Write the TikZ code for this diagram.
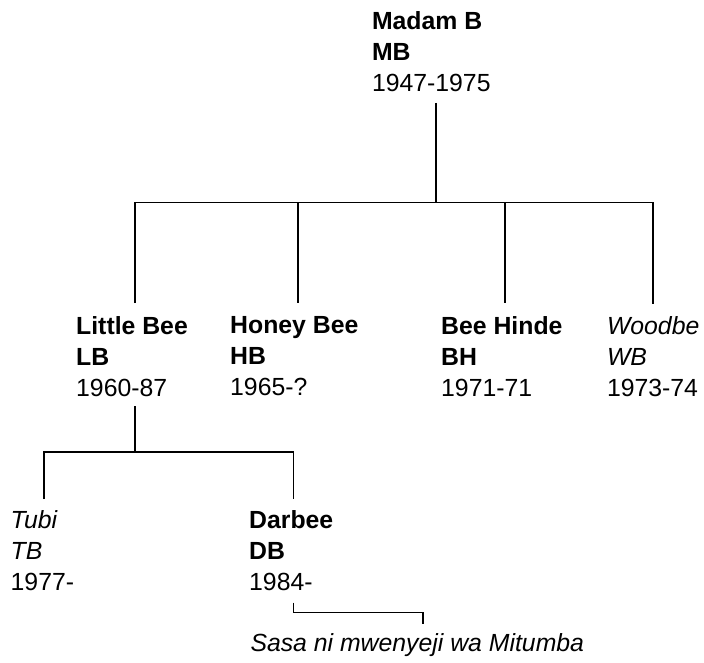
\documentclass[tikz,border=0pt]{standalone}
\usepackage{fontspec}
\setmainfont{Liberation Sans}
\usetikzlibrary{calc}
\begin{document}
\begin{tikzpicture}[x=1pt,y=-1pt,
  person/.style={anchor=north west, inner sep=0pt, outer sep=0pt, align=left,
                 font=\fontsize{24.8}{31}\selectfont},
  link/.style={line width=1.5pt, black}]
\useasboundingbox (0,0) rectangle (704,663);

% people
\node[person] (mb) at (372,11.5) {\textbf{Madam B}\\\textbf{MB}\\1947-1975};
\node[person] (lb) at (76.2,316.5) {\textbf{Little Bee}\\\textbf{LB}\\1960-87};
\node[person] (hb) at (230.2,316.5) {\textbf{Honey Bee}\\\textbf{HB}\\1965-?};
\node[person] (bh) at (441.2,316.5) {\textbf{Bee Hinde}\\\textbf{BH}\\1971-71};
\node[person] (wb) at (607,316.5) {\textit{Woodbe}\\\textit{WB}\\1973-74};
\node[person] (tb) at (10.7,510.5) {\textit{Tubi}\\\textit{TB}\\1977-};
\node[person] (db) at (249.2,510.5) {\textbf{Darbee}\\\textbf{DB}\\1984-};
\node[person] (sasa) at (250.5,633.7) {\textit{Sasa ni mwenyeji wa Mitumba}};

% junctions
\coordinate (j0) at (436,202.5);
\coordinate (j1) at (135,452);
\coordinate (lbtop) at ($(lb.north west)+(58.8,-13.5)$);
\coordinate (hbtop) at ($(hb.north west)+(67.8,-13.5)$);
\coordinate (bhtop) at ($(bh.north west)+(63.8,-13.5)$);
\coordinate (wbtop) at ($(wb.north west)+(46,-13)$);
\coordinate (tbtop) at ($(tb.north west)+(33.3,-11.5)$);
\coordinate (dbtop) at ($(db.north west)+(44.1,-11.5)$);
\coordinate (dbbot) at ($(db.north west)+(44.1,92.2)$);
\coordinate (sasatop) at ($(sasa.north west)+(172.5,-9.7)$);

% level 1
\draw[link] ($(mb.north west -| j0)+(0,91.5)$) -- (j0);
\draw[link] (lbtop) |- (j0) -| (wbtop);
\draw[link] (j0 -| hbtop) -- (hbtop);
\draw[link] (j0 -| bhtop) -- (bhtop);

% level 2
\draw[link] ($(lb.north west -| j1)+(0,89.5)$) -- (j1);
\draw[link] (tbtop) |- (j1) -| (dbtop);

% note
\draw[link] (dbbot) |- ($(sasatop)+(0,-11.3)$) -- (sasatop);
\end{tikzpicture}
\end{document}
